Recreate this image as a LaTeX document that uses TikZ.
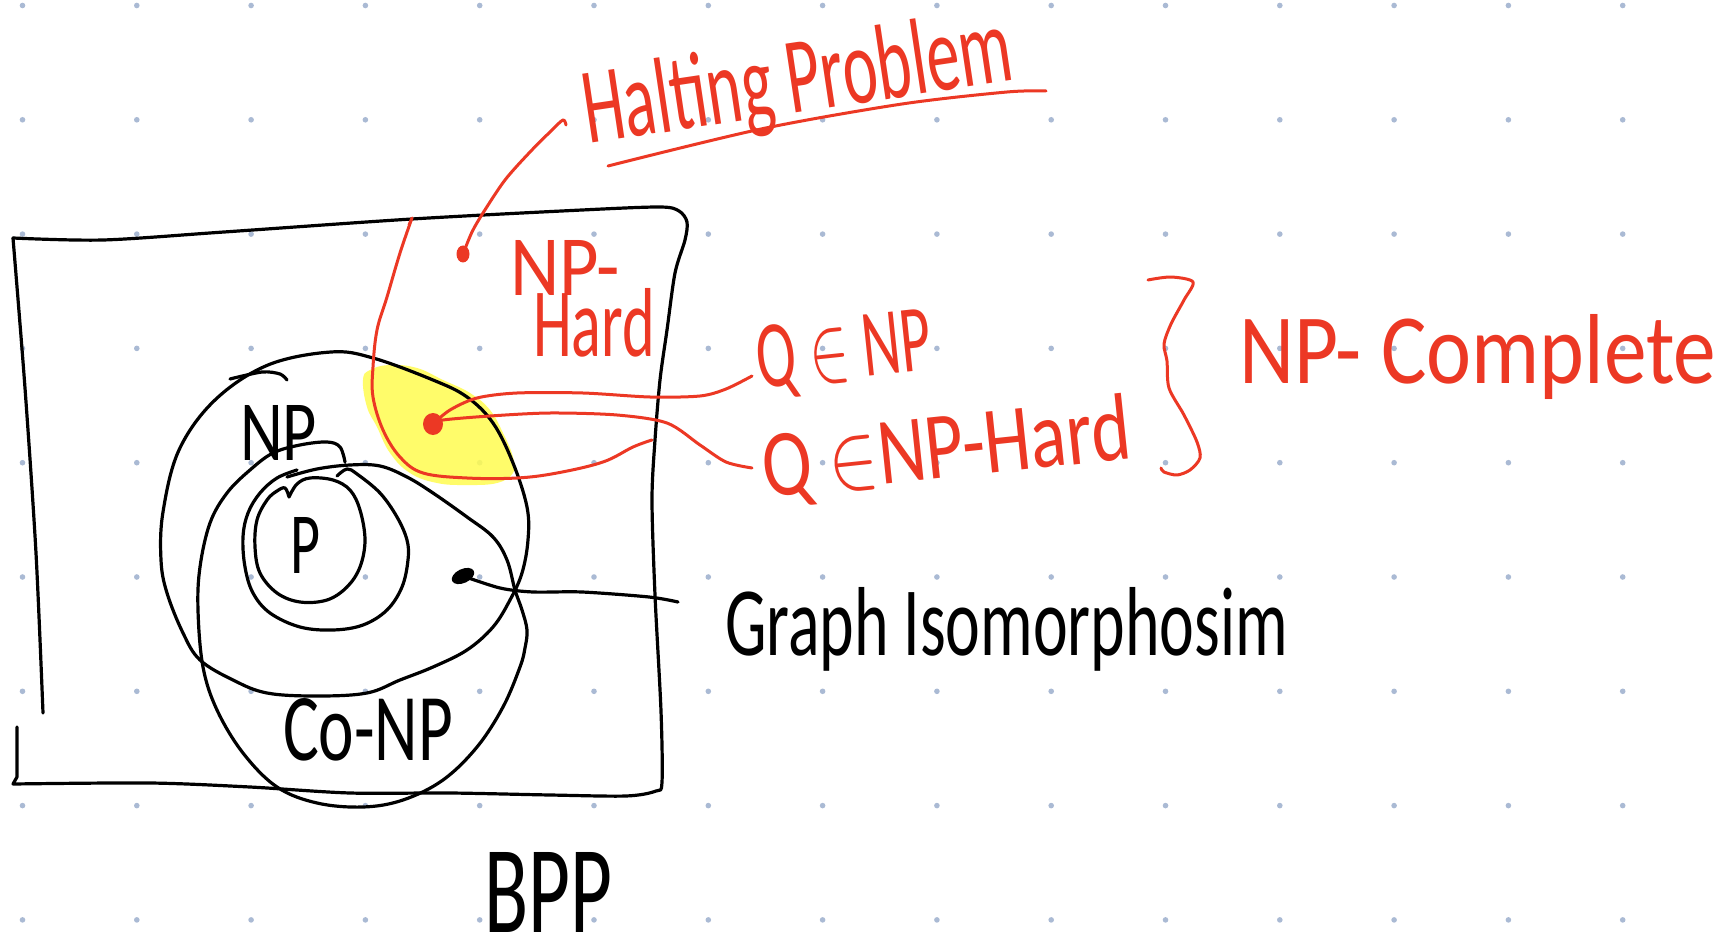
\documentclass[tikz,border=0pt]{standalone}
\usepackage{fontspec}
\setmainfont{Carlito}
\usepackage{graphicx}
\usetikzlibrary{shapes.geometric}
\definecolor{redpen}{RGB}{236,56,36}
\definecolor{hl}{RGB}{255,252,80}
\definecolor{griddot}{RGB}{170,186,212}
\tikzset{
  blk/.style={draw=black, line width=3.2pt, line cap=round, line join=round},
  redl/.style={draw=redpen, line width=3pt, line cap=round, line join=round},
  hw/.style={inner sep=0pt, outer sep=0pt, anchor=base west},
  inkdot/.style={ellipse, inner sep=0pt},
}
\newcommand{\hwtext}[3]{\resizebox{#1pt}{#2pt}{#3}}
\begin{document}
\begin{tikzpicture}[x=1pt,y=-1pt]
\useasboundingbox (0,0) rectangle (1725,944);
\fill[white] (0,0) rectangle (1725,944);
% dot grid
\foreach \i in {0,...,14}
  \foreach \j in {0,...,8}
    \fill[griddot] ({22.5+114.3*\i},{5.5+114.3*\j}) circle[radius=2.8];
% yellow highlight
\fill[hl, fill opacity=0.85] plot[smooth cycle, tension=0.7] coordinates {(363,380) (370,370) (390,365) (417,368) (443,380) (470,393) (490,410) (503,433) (513,457) (513,473) (497,483) (467,485) (437,483) (410,473) (390,453) (377,427) (367,407)};
% outer box (BPP)
\draw[blk] plot[smooth, tension=0.5] coordinates {(43,713) (36,553) (25,388) (13,238)};
\draw[blk] plot[smooth, tension=0.5] coordinates {(13,238) (103,240) (224,232) (412,219) (582,210) (660,207) (679,211) (687,222) (685,240) (675,273) (667,330) (660,380) (655,440) (652,500) (655,595) (661,711) (662,782) (656,791) (626,796) (550,795) (450,793) (350,793) (250,787) (150,783) (13,784)} -- (17,777) -- (17,727);
% NP oval
\draw[blk] plot[smooth cycle, tension=0.6] coordinates {(331,352) (373,358) (433,380) (467,397) (493,423) (513,463) (527,507) (528,540) (522,573) (510,600) (493,627) (467,650) (433,667) (400,680) (367,693) (317,696) (267,693) (233,680) (200,660) (183,633) (167,593) (161,560) (163,512) (179,450) (215,400) (268,365)};
\draw[blk] plot[smooth] coordinates {(230,379) (262,372) (280,374) (287,380)};
% Co-NP oval
\draw[blk] plot[smooth, tension=0.6] coordinates {(287,477) (317,469) (350,465) (380,466) (407,477) (433,493) (467,517) (493,537) (507,560) (515,590) (522,610) (527,630) (525,648) (520,667) (503,707) (477,747) (443,780) (403,800) (363,807) (317,803) (277,787) (243,753) (217,710) (203,667) (198,610) (200,567) (210,523) (227,493) (250,470) (273,453) (300,445) (327,442) (340,447) (345,462)};
% ring around P
\draw[blk] plot[smooth, tension=0.6] coordinates {(337,476) (347,469) (357,474) (380,493) (397,517) (407,540) (408,560) (402,587) (387,610) (363,625) (333,630) (300,627) (270,613) (253,593) (245,567) (243,537) (248,513) (260,493) (277,478) (297,470)};
% P circle
\draw[blk] plot[smooth, tension=0.6] coordinates {(289,497) (297,484) (310,478) (333,480) (350,490) (360,510) (365,540) (360,567) (347,587) (327,600) (300,602) (277,593) (260,573) (255,547) (257,520) (267,500) (277,491) (285,488) (289,497)};
% Graph isomorphism pointer
\node[inkdot, fill=black, minimum width=24pt, minimum height=14pt, rotate=25] (gdot) at (463,576) {};
\coordinate (gend) at (678,602);
\draw[blk] plot[smooth] coordinates {(gdot.center) (500,588) (533,592) (582,592) (649,597) (gend)};
% NP-hard boundary
\draw[redl] (409,225) -- plot[smooth, tension=0.6] coordinates {(412,218) (400,253) (387,297) (377,330) (373,367) (373,397) (383,430) (400,457) (423,473) (467,478) (517,478) (557,473) (603,462) (633,447) (652,440)};
% Halting problem pointer
\node[inkdot, fill=redpen, minimum width=13pt, minimum height=17pt] (hdot) at (463,254) {};
\coordinate (hend) at (566,125);
\draw[redl] plot[smooth] coordinates {(hdot.center) (472,232) (483,213) (505,180) (530,152) (552,130) (563,120) (hend)};
% NP-complete dot and pointers
\node[inkdot, fill=redpen, minimum width=20pt, minimum height=22pt] (qdot) at (433,424) {};
\coordinate (qnpend) at (752,376);
\coordinate (qnhend) at (752,468);
\draw[redl] plot[smooth] coordinates {(qdot.center) (450,410) (477,398) (517,393) (583,393) (650,397) (700,396) (726,389) (qnpend)};
\draw[redl] plot[smooth] coordinates {(qdot.center) (443,420) (490,416) (550,413) (617,415) (667,423) (700,445) (726,462) (qnhend)};
% brace
\draw[redl] plot[smooth, tension=0.5] coordinates {(1148,280) (1171,277) (1193,282) (1184,300) (1171,324) (1164,344) (1167,361) (1169,388) (1184,415) (1197,442) (1200,458) (1190,470) (1177,475) (1164,472) (1161,468)};
% underline
\draw[redl] plot[smooth] coordinates {(608,166) (761,129) (902,104) (1007,92) (1046,91)};
% texts
\node[hw, text=redpen, rotate=8.5] (halting) at (588,144) {\hwtext{433}{75}{Halting Problem}};
\node[hw, text=redpen] (nph1) at (510,295) {\hwtext{110}{55}{NP-}};
\node[hw, text=redpen] (nph2) at (533,356) {\hwtext{122}{68}{Hard}};
\node[hw, text=redpen, rotate=6] (qnp) at (759,388) {\hwtext{176}{62}{Q $\in$ NP}};
\node[hw, text=redpen, rotate=6] (qnph) at (765,497) {\hwtext{370}{66}{Q $\in$NP-Hard}};
\node[hw, text=redpen] (npc) at (1239,383) {\hwtext{477}{69}{NP- Complete}};
\node[hw] (giso) at (725,655) {\hwtext{563}{68}{Graph Isomorphosim}};
\node[hw] (nplabel) at (240,460) {\hwtext{77}{55}{NP}};
\node[hw] (plabel) at (290,573) {\hwtext{30}{56}{P}};
\node[hw] (conp) at (283,760) {\hwtext{170}{62}{Co-NP}};
\node[hw] (bpp) at (484,932) {\hwtext{128}{80}{BPP}};
\end{tikzpicture}
\end{document}
